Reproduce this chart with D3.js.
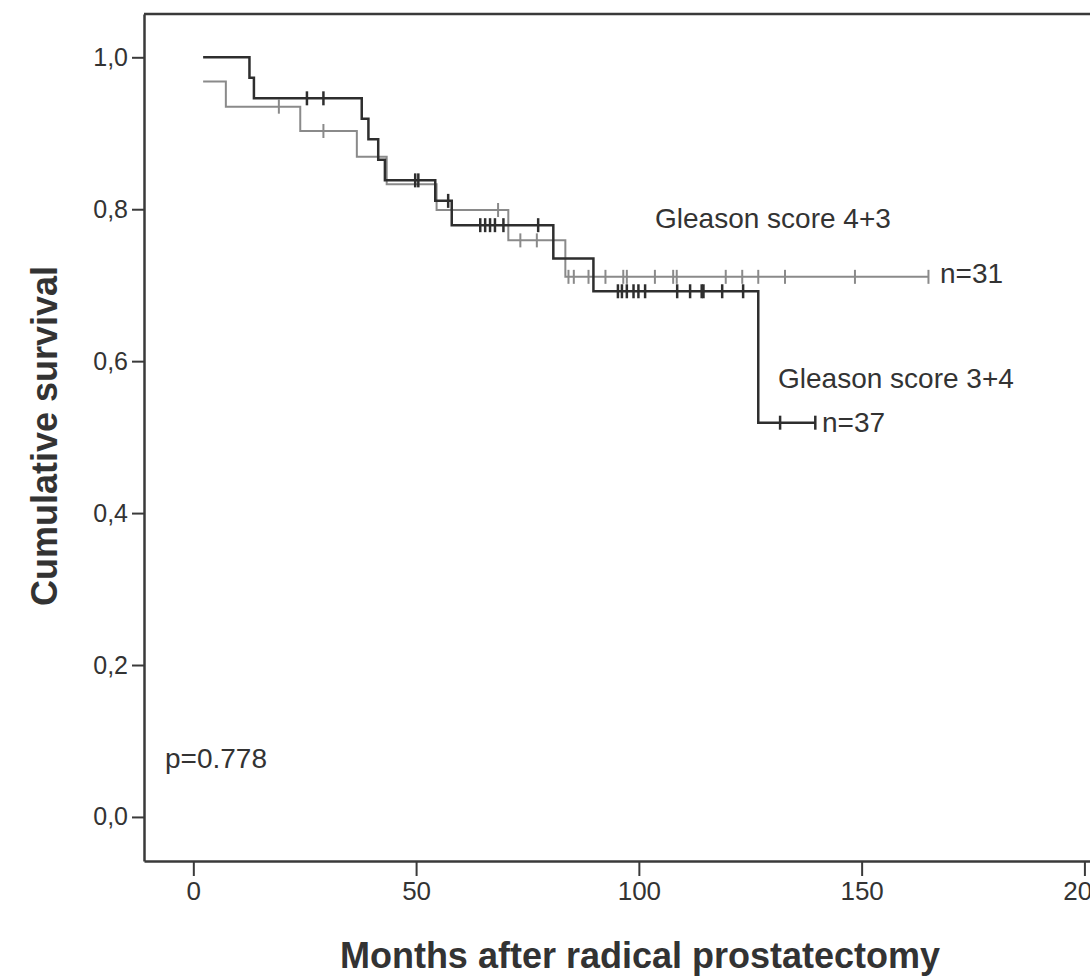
<!DOCTYPE html>
<html>
<head>
<meta charset="utf-8">
<script src="https://cdn.jsdelivr.net/npm/d3@7"></script>
<style>
  body { margin: 0; background: #fff; }
  svg { display: block; }
  text { font-family: "Liberation Sans", Arial, sans-serif; fill: #333; }
</style>
</head>
<body>
<svg id="chart" width="1090" height="980"></svg>
<script>
// Kaplan-Meier curves: [months, cumulative survival]
const score34Steps = [[2.2,1.0],[12.6,0.973],[13.6,0.946],[37.8,0.919],[39.3,0.892],[41.5,0.865],
  [43.0,0.838],[54.3,0.811],[58.0,0.779],[80.8,0.735],[89.8,0.692],[126.8,0.519]]
const score34End = 139.6
const score34Censored = [25.5,29.2,49.8,50.5,57.2,64.4,65.5,66.6,67.7,69.6,77.4,95.3,96.2,97.3,98.8,
  99.9,101.4,108.6,111.5,114.1,114.5,118.7,123.4,131.7,139.6]

const score43Steps = [[2.2,0.968],[7.3,0.935],[24.0,0.903],[36.7,0.869],[43.4,0.833],[54.6,0.799],
  [70.7,0.759],[83.5,0.711]]
const score43End = 165.0
const score43Censored = [19.2,29.2,68.4,73.4,77.1,84.2,85.4,88.7,92.5,96.5,97.3,103.6,107.7,108.5,
  119.5,123.2,126.8,132.8,148.5,165.0]

const yTicks = [0, 0.2, 0.4, 0.6, 0.8, 1.0]
const xTicks = [0, 50, 100, 150, 200]

const svg = d3.select("#chart")

const x = d3.scaleLinear().domain([-11.07, 203.5]).range([144, 1100])
const y = d3.scaleLinear().domain([-0.058, 1.057]).range([861, 14])

// frame top
svg.append("line")
  .attr("x1", 144).attr("x2", 1100).attr("y1", 14).attr("y2", 14)
  .attr("stroke", "#3a3a3a").attr("stroke-width", 2.5)

const yAxis = svg.append("g")
  .attr("transform", "translate(144,0)")
  .call(d3.axisLeft(y).tickValues(yTicks).tickSize(12).tickSizeOuter(0).tickPadding(4)
    .tickFormat(d => d3.format(".1f")(d).replace(".", ",")))
yAxis.select(".domain").attr("stroke", "#3a3a3a").attr("stroke-width", 2.5)
yAxis.selectAll(".tick line").attr("stroke", "#3a3a3a").attr("stroke-width", 2)
yAxis.selectAll(".tick text").attr("font-size", 25).attr("fill", "#444")
  .attr("font-family", "Liberation Sans, Arial, sans-serif")

const xAxis = svg.append("g")
  .attr("transform", "translate(0,861)")
  .call(d3.axisBottom(x).tickValues(xTicks).tickSize(15).tickSizeOuter(0).tickPadding(6))
xAxis.select(".domain").attr("stroke", "#3a3a3a").attr("stroke-width", 2.5)
xAxis.selectAll(".tick line").attr("stroke", "#3a3a3a").attr("stroke-width", 2)
xAxis.selectAll(".tick text").attr("font-size", 26).attr("fill", "#444")
  .attr("font-family", "Liberation Sans Narrow, Liberation Sans, Arial, sans-serif")

// axis titles
svg.append("text")
  .attr("x", 640).attr("y", 968)
  .attr("text-anchor", "middle")
  .attr("font-size", 36).attr("font-weight", "bold").attr("fill", "#222")
  .text("Months after radical prostatectomy")

svg.append("text")
  .attr("transform", "translate(57,436) rotate(-90)")
  .attr("text-anchor", "middle")
  .attr("font-size", 36).attr("font-weight", "bold").attr("fill", "#222")
  .text("Cumulative survival")

// helpers
function levelAt(steps, t) {
  let s = steps[0][1]
  steps.forEach(d => { if (d[0] <= t) s = d[1] })
  return s
}

const line = d3.line().x(d => x(d[0])).y(d => y(d[1])).curve(d3.curveStepAfter)

function drawCurve(steps, end, censored, color, width) {
  const pts = steps.concat([[end, steps[steps.length - 1][1]]])
  svg.append("path")
    .datum(pts)
    .attr("fill", "none")
    .attr("stroke", color)
    .attr("stroke-width", width)
    .attr("d", line)
  svg.append("g").selectAll("line")
    .data(censored)
    .join("line")
    .attr("x1", d => x(d)).attr("x2", d => x(d))
    .attr("y1", d => y(levelAt(steps, d)) - 7)
    .attr("y2", d => y(levelAt(steps, d)) + 7)
    .attr("stroke", color)
    .attr("stroke-width", width)
}

drawCurve(score43Steps, score43End, score43Censored, "#8a8a8a", 2)
drawCurve(score34Steps, score34End, score34Censored, "#2e2e2e", 2.5)

// annotations
const notes = [
  {t: "Gleason score 4+3", x: 655, y: 228},
  {t: "n=31", x: 940, y: 283},
  {t: "Gleason score 3+4", x: 778, y: 388},
  {t: "n=37", x: 822, y: 432},
  {t: "p=0.778", x: 165, y: 768}
]
svg.append("g").selectAll("text")
  .data(notes)
  .join("text")
  .attr("x", d => d.x).attr("y", d => d.y)
  .attr("font-size", 28).attr("fill", "#444")
  .text(d => d.t)
</script>
</body>
</html>
